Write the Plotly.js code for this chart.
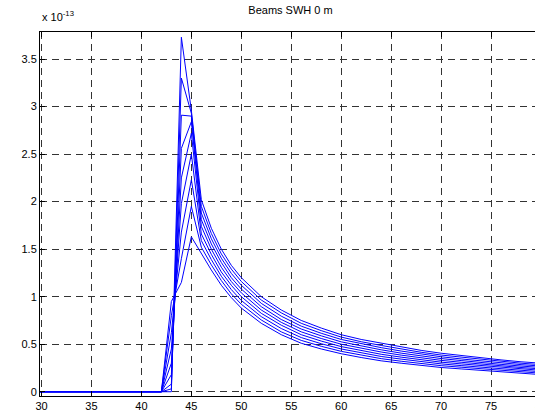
<!DOCTYPE html>
<html>
<head>
<meta charset="utf-8">
<script src="https://cdn.plot.ly/plotly-3.0.1.min.js"></script>
<style>
html,body{margin:0;padding:0;overflow:hidden;background:#fff;}
#chart{width:560px;height:413px;}
</style>
</head>
<body>
<div id="chart"></div>
<script>
// x positions (degrees / range bins) shared by all beams
const xVals = [29,42,43,44,45,46,47,48,49,50,52,54,56,58,60,62,64,66,68,70,72,74,76,78,80];
// values in units of 1e-13
const beam1 = [0,0,0.95,1.15,1.63,1.45,1.28,1.12,0.99,0.88,0.72,0.60,0.51,0.45,0.40,0.36,0.325,0.30,0.275,0.255,0.24,0.225,0.21,0.195,0.18];
const beam2 = [0,0,0.80,1.40,1.95,1.52,1.335,1.17,1.03,0.92,0.755,0.63,0.54,0.478,0.425,0.384,0.348,0.321,0.295,0.274,0.258,0.241,0.226,0.21,0.195];
const beam3 = [0,0,0.62,1.68,2.23,1.59,1.39,1.215,1.075,0.96,0.79,0.665,0.57,0.505,0.45,0.408,0.371,0.343,0.315,0.293,0.275,0.258,0.241,0.225,0.21];
const beam4 = [0,0,0.45,1.98,2.50,1.66,1.445,1.26,1.12,1.00,0.825,0.70,0.60,0.533,0.475,0.431,0.394,0.364,0.335,0.311,0.293,0.274,0.257,0.24,0.225];
const beam5 = [0,0,0.30,2.25,2.72,1.74,1.50,1.31,1.16,1.04,0.86,0.73,0.63,0.56,0.50,0.455,0.418,0.385,0.355,0.33,0.31,0.29,0.273,0.255,0.24];
const beam6 = [0,0,0.18,2.56,2.84,1.81,1.555,1.36,1.20,1.08,0.895,0.76,0.66,0.588,0.525,0.479,0.441,0.406,0.375,0.349,0.328,0.306,0.288,0.27,0.255];
const beam7 = [0,0,0.08,2.91,2.90,1.88,1.61,1.405,1.245,1.12,0.93,0.795,0.69,0.615,0.55,0.503,0.464,0.428,0.395,0.368,0.345,0.323,0.304,0.285,0.27];
const beam8 = [0,0,0.03,3.30,2.93,1.95,1.665,1.45,1.29,1.16,0.965,0.83,0.72,0.643,0.575,0.526,0.487,0.449,0.415,0.386,0.363,0.339,0.319,0.30,0.285];
const beam9 = [0,0,0,3.73,2.96,2.02,1.72,1.50,1.33,1.20,1.00,0.86,0.75,0.67,0.60,0.55,0.51,0.47,0.435,0.405,0.38,0.355,0.335,0.315,0.30];
const beams = [beam1,beam2,beam3,beam4,beam5,beam6,beam7,beam8,beam9];

const titleText = 'Beams SWH 0 m';
const exponentText = 'x 10<sup>-13</sup>';
const xTickVals = [30,35,40,45,50,55,60,65,70,75,80];
const yTickVals = [0,0.5,1,1.5,2,2.5,3,3.5];

const traces = beams.map(b => ({
  x: xVals, y: b, type: 'scatter', mode: 'lines',
  line: {color: '#0000ff', width: 1}, hoverinfo: 'none'
}));

const axisCommon = {
  showline: true, linecolor: '#000', linewidth: 1, mirror: 'ticks',
  ticks: 'inside', ticklen: 5, tickcolor: '#000', tickwidth: 1,
  showgrid: true, gridcolor: '#333', gridwidth: 1, griddash: '7px,5px',
  zeroline: false,
  tickfont: {family: 'Liberation Sans, Arial, sans-serif', size: 11, color: '#000'}
};

const layout = {
  width: 560, height: 413,
  margin: {l: 40, r: 19, t: 32, b: 17},
  paper_bgcolor: '#fff', plot_bgcolor: '#fff',
  showlegend: false,
  title: {text: titleText, x: 0.5, xref: 'paper', xanchor: 'center',
          y: 1 - 10/413, yref: 'container', yanchor: 'middle',
          font: {family: 'Liberation Sans, Arial, sans-serif', size: 11, color: '#000'}},
  xaxis: Object.assign({}, axisCommon, {range: [29.85, 80], tickmode: 'array', tickvals: xTickVals}),
  yaxis: Object.assign({}, axisCommon, {range: [-0.045, 3.785], tickmode: 'array', tickvals: yTickVals}),
  annotations: [{
    text: exponentText, xref: 'paper', yref: 'paper', x: 0, y: 1.02,
    xanchor: 'left', yanchor: 'bottom', showarrow: false,
    font: {family: 'Liberation Sans, Arial, sans-serif', size: 11, color: '#000'}
  }]
};

Plotly.newPlot('chart', traces, layout, {staticPlot: true, displayModeBar: false});
</script>
</body>
</html>
